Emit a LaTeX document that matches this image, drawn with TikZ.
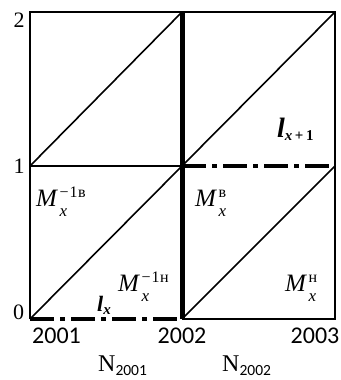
\documentclass[tikz,border=0pt]{standalone}
\usepackage{fontspec}
\setmainfont{Liberation Serif}
\newfontfamily\yearfont{Carlito}
\newcommand\Mlab[1]{\textit{M}\kern1.5pt\rlap{\raisebox{-10pt}{\fontsize{17}{17}\selectfont\textit{x}}}\raisebox{9pt}{\fontsize{16}{16}\selectfont #1}}
\begin{document}
\begin{tikzpicture}[x=1pt,y=-1pt,
  thin/.style={line width=1.6pt},
  thickv/.style={line width=5pt},
  dashdot/.style={line width=3.6pt,dash pattern=on 24pt off 6pt on 5pt off 6pt},
  lab/.style={inner sep=0pt,font=\fontsize{22}{26}\selectfont},
  yr/.style={inner sep=0pt,anchor=base,font=\yearfont\fontsize{24}{28}\selectfont},
  ml/.style={inner sep=0pt,anchor=base west,font=\fontsize{25}{29}\selectfont}]
\useasboundingbox (0,0) rectangle (340,380);
% grid coordinates
\coordinate (A2) at (30,12);
\coordinate (B2) at (182,12);
\coordinate (C2) at (335,12);
\coordinate (A1) at (30,166);
\coordinate (B1) at (182,166);
\coordinate (C1) at (335,166);
\coordinate (A0) at (30,319);
\coordinate (B0) at (182,319);
\coordinate (C0) at (335,319);
% frame
\draw[thin] (A0) -- (A2) -- (C2) -- (C0) -- (B0);
\draw[thin] (A1) -- (B1);
% diagonals
\draw[thin] (A0) -- (B1);
\draw[thin] (A1) -- (B2);
\draw[thin] (B1) -- (C2);
\draw[thin] (B0) -- (C1);
% dash-dot lines
\draw[dashdot] (A0) -- (B0);
\draw[dashdot] (B1) -- (C1);
% thick vertical
\draw[thickv] (B0) -- (B2);
% axis labels
\node[lab] (y2) at (19,20) {2};
\node[lab] (y1) at (19,166.5) {1};
\node[lab] (y0) at (18.5,312.5) {0};
\node[yr] (t1) at (56.5,343) {2001};
\node[yr] (t2) at (182,343) {2002};
\node[yr] (t3) at (315,343) {2003};
\node[lab,anchor=base west,font=\fontsize{24}{28}\selectfont] (n1) at (98,371) {N\raisebox{-4pt}{\yearfont\fontsize{15.5}{18}\selectfont 2001}};
\node[lab,anchor=base west,font=\fontsize{24}{28}\selectfont] (n2) at (222,371) {N\raisebox{-4pt}{\yearfont\fontsize{15.5}{18}\selectfont 2002}};
% M labels
\node[ml] (m1) at (36,206) {\Mlab{−\kern1pt1\kern0.5ptв}};
\node[ml] (m2) at (118,291) {\Mlab{−\kern1pt1\kern0.5ptн}};
\node[ml] (m3) at (195,206) {\Mlab{в}};
\node[ml] (m4) at (285,291) {\Mlab{н}};
% l labels
\node[ml,font=\fontsize{22}{26}\selectfont\bfseries\itshape] (lx) at (97,311)
  {l\raisebox{-3pt}{\fontsize{15}{15}\selectfont x}};
\node[ml,font=\fontsize{28}{32}\selectfont\bfseries\itshape] (lx1) at (277,137)
  {l\raisebox{-3pt}{\fontsize{15}{15}\selectfont x\upshape\,+\,1}};
\end{tikzpicture}
\end{document}
